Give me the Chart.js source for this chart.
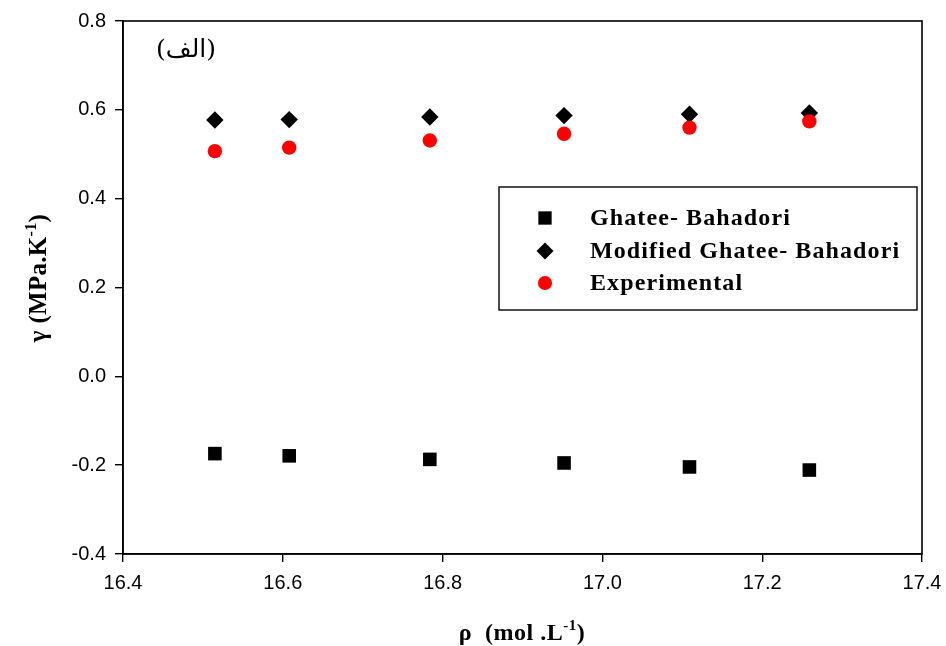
<!DOCTYPE html>
<html>
<head>
<meta charset="utf-8">
<script src="https://cdn.jsdelivr.net/npm/chart.js@4.4.1/dist/chart.umd.min.js"></script>
<style>
html,body{margin:0;padding:0;background:#fff;}
#wrap{width:946px;height:646px;position:relative;}
</style>
</head>
<body>
<div id="wrap"><canvas id="c" width="946" height="646"></canvas></div>
<script>
// ---- data ----
const rho = [16.515, 16.608, 16.784, 16.952, 17.109, 17.259];
const ghateeBahadori = [-0.174, -0.179, -0.187, -0.195, -0.204, -0.211];
const modifiedGhateeBahadori = [0.577, 0.578, 0.584, 0.587, 0.590, 0.593];
const experimental = [0.507, 0.515, 0.531, 0.546, 0.560, 0.574];
const seriesLabels = ['Ghatee- Bahadori', 'Modified Ghatee- Bahadori', 'Experimental'];
const xTicks = [16.4, 16.6, 16.8, 17.0, 17.2, 17.4];
const yTicks = [-0.4, -0.2, 0.0, 0.2, 0.4, 0.6, 0.8];
const panelLabel = '(الف)';

const toPts = ys => rho.map((x, i) => ({x: x, y: ys[i]}));

const styles = [
  {pointStyle: 'rect', radius: 9.6, color: '#000000', order: 3},
  {pointStyle: 'rectRot', radius: 8.7, color: '#000000', order: 2},
  {pointStyle: 'circle', radius: 7.2, color: '#ff0000', order: 1}
];
const series = [ghateeBahadori, modifiedGhateeBahadori, experimental];

const datasets = series.map((s, i) => ({
  label: seriesLabels[i],
  data: toPts(s),
  pointStyle: styles[i].pointStyle,
  pointRadius: styles[i].radius,
  pointHoverRadius: styles[i].radius,
  pointBackgroundColor: styles[i].color,
  pointBorderColor: styles[i].color,
  pointBorderWidth: 0,
  showLine: false,
  order: styles[i].order
}));

function drawMarker(ctx, style, r, x, y, color) {
  ctx.save();
  ctx.fillStyle = color;
  ctx.beginPath();
  if (style === 'rect') {
    const s = Math.SQRT1_2 * r;
    ctx.rect(x - s, y - s, 2 * s, 2 * s);
  } else if (style === 'rectRot') {
    ctx.moveTo(x - r, y); ctx.lineTo(x, y - r); ctx.lineTo(x + r, y); ctx.lineTo(x, y + r); ctx.closePath();
  } else {
    ctx.arc(x, y, r, 0, Math.PI * 2);
  }
  ctx.fill();
  ctx.restore();
}

// draw text with a superscript part: parts = [[text, isSup], ...]
function drawRich(ctx, parts, x, y, size, spacing, align) {
  const base = 'bold ' + size + 'px "Liberation Serif", "Times New Roman", serif';
  const sup = 'bold ' + Math.round(size * 0.62) + 'px "Liberation Serif", "Times New Roman", serif';
  ctx.letterSpacing = spacing + 'px';
  let total = 0;
  const widths = parts.map(p => { ctx.font = p[1] ? sup : base; const w = ctx.measureText(p[0]).width; total += w; return w; });
  let cx = align === 'center' ? x - total / 2 : x;
  ctx.textAlign = 'left';
  ctx.textBaseline = 'alphabetic';
  parts.forEach((p, i) => {
    ctx.font = p[1] ? sup : base;
    ctx.fillText(p[0], cx, p[1] ? y - size * 0.42 : y);
    cx += widths[i];
  });
  ctx.letterSpacing = '0px';
}

const decor = {
  id: 'decor',
  afterDatasetsDraw(chart) {
    const ctx = chart.ctx;
    const a = chart.chartArea;
    ctx.save();
    // frame
    ctx.strokeStyle = '#000';
    ctx.lineWidth = 1.6;
    ctx.strokeRect(a.left, a.top, a.right - a.left, a.bottom - a.top);

    // panel label
    ctx.fillStyle = '#000';
    ctx.font = '25px "DejaVu Serif", "DejaVu Sans", serif';
    ctx.textAlign = 'center';
    ctx.textBaseline = 'middle';
    ctx.fillText(panelLabel, 186, 50);

    // legend box
    const lx = 499, ly = 187, lw = 418, lh = 123;
    ctx.lineWidth = 1.4;
    ctx.strokeRect(lx, ly, lw, lh);
    const rows = [218, 251, 283];
    const bases = [225, 258, 290];
    chart.data.datasets.forEach((ds, i) => {
      drawMarker(ctx, styles[i].pointStyle, styles[i].radius * 0.98, 545, rows[i], styles[i].color);
      ctx.fillStyle = '#000';
      ctx.font = 'bold 24px "Liberation Serif", "Times New Roman", serif';
      ctx.letterSpacing = '1.1px';
      ctx.textAlign = 'left';
      ctx.textBaseline = 'alphabetic';
      ctx.fillText(ds.label, 590, bases[i]);
      ctx.letterSpacing = '0px';
    });

    // x axis title
    ctx.fillStyle = '#000';
    drawRich(ctx, [['ρ  (mol .L', false], ['-1', true], [')', false]], 522, 640, 24, 0.5, 'center');

    // y axis title
    ctx.save();
    ctx.translate(46, 278);
    ctx.rotate(-Math.PI / 2);
    drawRich(ctx, [['γ (MPa.K', false], ['-1', true], [')', false]], 0, 0, 25, 0.3, 'center');
    ctx.restore();

    ctx.restore();
  }
};

new Chart(document.getElementById('c'), {
  type: 'scatter',
  data: {datasets: datasets},
  options: {
    responsive: false,
    animation: false,
    devicePixelRatio: 1,
    layout: {padding: {left: 0, right: 24, top: 21, bottom: 0}},
    plugins: {legend: {display: false}, tooltip: {enabled: false}},
    scales: {
      x: {
        type: 'linear',
        min: xTicks[0], max: xTicks[xTicks.length - 1],
        afterBuildTicks: s => { s.ticks = xTicks.map(v => ({value: v})); },
        afterFit: s => { s.height = 92; s.paddingLeft = 0; s.paddingRight = 0; },
        ticks: {
          color: '#000',
          font: {family: '"Liberation Sans", Arial, sans-serif', size: 20},
          padding: 9,
          maxRotation: 0,
          callback: v => Number(v).toFixed(1)
        },
        grid: {display: true, drawOnChartArea: false, drawTicks: true, tickLength: 8, color: '#000', lineWidth: 1.4},
        border: {display: true, color: '#000', width: 1.6}
      },
      y: {
        type: 'linear',
        min: yTicks[0], max: yTicks[yTicks.length - 1],
        afterBuildTicks: s => { s.ticks = yTicks.map(v => ({value: v})); },
        afterFit: s => { s.width = 123; s.paddingTop = 0; s.paddingBottom = 0; },
        ticks: {
          color: '#000',
          font: {family: '"Liberation Sans", Arial, sans-serif', size: 20},
          padding: 9,
          callback: v => Number(v).toFixed(1)
        },
        grid: {display: true, drawOnChartArea: false, drawTicks: true, tickLength: 8, color: '#000', lineWidth: 1.4},
        border: {display: true, color: '#000', width: 1.6}
      }
    }
  },
  plugins: [decor]
});
</script>
</body>
</html>
